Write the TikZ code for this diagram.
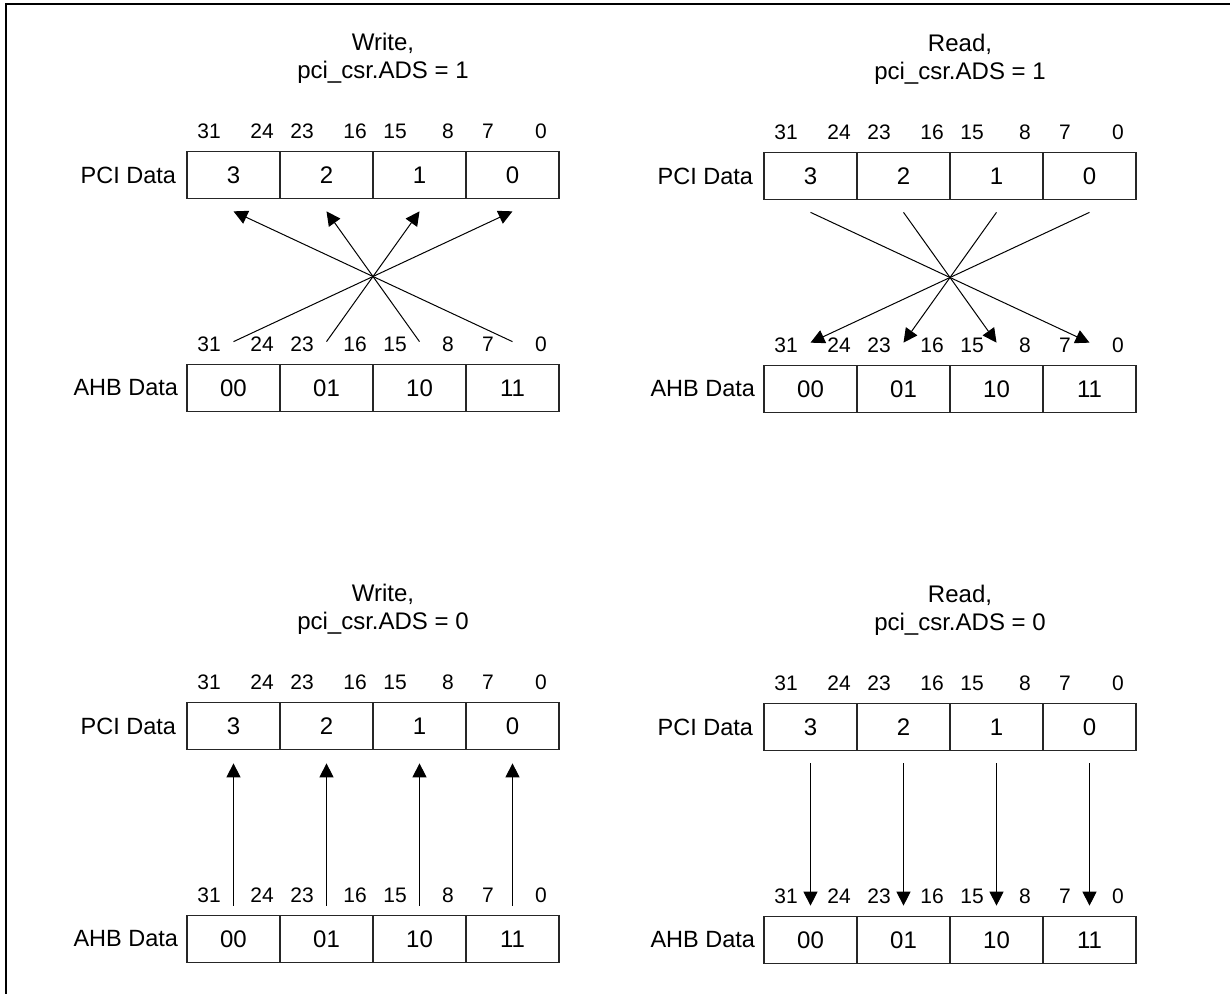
\documentclass[tikz,border=0pt]{standalone}
\usepackage{fontspec}
\setmainfont{Liberation Sans}
\usetikzlibrary{calc,positioning,arrows.meta}

\begin{document}
\begin{tikzpicture}[x=0.5pt,y=-0.5pt,
  bytecell/.style={draw=black!85,line width=0.6pt,minimum width=46.5pt,
    minimum height=23.75pt,inner sep=0pt,font=\fontsize{12}{14}\selectfont},
  bitnum/.style={inner sep=0pt,font=\fontsize{10.5}{12}\selectfont},
  rowlabel/.style={inner sep=0pt,font=\fontsize{11.75}{14}\selectfont},
  paneltitle/.style={align=center,inner sep=0pt,font=\fontsize{12}{14}\selectfont},
  xfer/.style={line width=0.5pt,-{Triangle[length=7pt,width=7pt]}}]
  \useasboundingbox (0,0) rectangle (1230,994);
  % frame
  \draw[line width=1pt] (5.5,994) -- (5.5,4) -- (1230,4);
  % four panels: PCI word above, AHB word below
  \foreach \pn/\px/\py/\op/\ads in {wa/187/151/Write/1, ra/764/152/Read/1,
                                    wb/187/702/Write/0, rb/764/703/Read/0} {
    \node[paneltitle] (\pn-title) at (\px+196,\py-93) {\op,\\pci\_csr.ADS = \ads};
    \foreach \v [count=\i from 0] in {3,2,1,0}
      \node[bytecell] (\pn-p\i) at (\px+46.5+93*\i,\py+24) {\v};
    \foreach \v [count=\i from 0] in {00,01,10,11}
      \node[bytecell] (\pn-a\i) at (\px+46.5+93*\i,\py+237) {\v};
    \node[rowlabel,left=5pt of \pn-p0] (\pn-pname) {PCI Data};
    \node[rowlabel,left=4pt of \pn-a0] (\pn-aname) {AHB Data};
    % bit numbers
    \foreach \hi/\lo [count=\i from 0] in {31/24,23/16,15/8,7/0} {
      \node[bitnum] (\pn-ph\i) at (\px+93*\i+22,\py-19.5) {\hi};
      \node[bitnum] (\pn-pl\i) at (\px+93*\i+75,\py-19.5) {\lo};
      \node[bitnum] (\pn-ah\i) at (\px+93*\i+22,\py+193.5) {\hi};
      \node[bitnum] (\pn-al\i) at (\px+93*\i+75,\py+193.5) {\lo};
    }
  }
  % write, ADS = 1: bytes swapped on the way up
  \foreach \i in {0,...,3} {
    \pgfmathtruncatemacro\j{3-\i}
    \draw[xfer] ($(wa-a\i.north)+(0,-22)$) -- ($(wa-p\j.south)+(0,12)$);
  }
  % read, ADS = 1: bytes swapped on the way down
  \foreach \i in {0,...,3} {
    \pgfmathtruncatemacro\j{3-\i}
    \draw[xfer] ($(ra-p\i.south)+(0,12)$) -- ($(ra-a\j.north)+(0,-22)$);
  }
  % ADS = 0: straight through
  \foreach \i in {0,...,3} {
    \draw[xfer] ($(wb-a\i.north)+(0,-9)$) -- ($(wb-p\i.south)+(0,13)$);
    \draw[xfer] ($(rb-p\i.south)+(0,12)$) -- ($(rb-a\i.north)+(0,-10)$);
  }
\end{tikzpicture}
\end{document}
